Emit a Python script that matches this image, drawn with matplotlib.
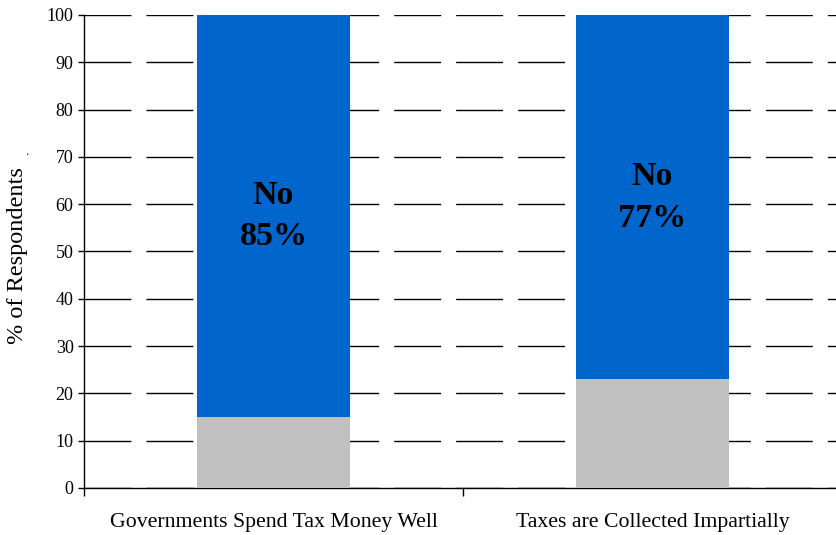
import matplotlib.pyplot as plt

# Survey results: share of respondents answering "No" vs. the rest
categories = ['Governments Spend Tax Money Well', 'Taxes are Collected Impartially']
other_pct = [15, 23]
no_pct = [85, 77]
no_labels = ['No\n85%', 'No\n77%']

plt.rcParams['font.family'] = ['Liberation Serif', 'DejaVu Serif']

fig = plt.figure(figsize=(8.36, 5.35), dpi=100)
ax = fig.add_axes([84 / 836, 1 - 488 / 535, 758 / 836, 473 / 535])

x = range(len(categories))
ax.bar(x, other_pct, width=0.404, color='#C0C0C0', zorder=3)
ax.bar(x, no_pct, bottom=other_pct, width=0.404, color='#0066CC', zorder=3)

# value labels sit in the middle of the blue part
for i, (b, v, lab) in enumerate(zip(other_pct, no_pct, no_labels)):
    ax.text(i, b + v / 2, lab, ha='center', va='center', fontsize=24.5,
            fontweight='bold', linespacing=1.45, zorder=4)

ax.set_xlim(-0.5, len(categories) - 0.5)
ax.set_ylim(0, 100)
ax.set_yticks(range(0, 101, 10))
ax.tick_params(axis='y', labelsize=13, length=4.5, width=1, direction='out', pad=3)
ax.set_xticks([])
ax.set_xticks([-0.5, 0.5, 1.5], minor=True)
ax.tick_params(axis='x', which='minor', length=6, width=1)
for i, c in enumerate(categories):
    ax.text(i, -5.2, c, ha='center', va='top', fontsize=15.7)

ax.yaxis.grid(True, color='black', linewidth=1, linestyle=(0, (33.8, 10.8)), zorder=1)
ax.spines['top'].set_visible(False)
ax.spines['right'].set_visible(False)
ax.spines['left'].set_linewidth(1)
ax.spines['bottom'].set_linewidth(1)

fig.text(18 / 836, 1 - 256 / 535, '% of Respondents', rotation=90,
         ha='center', va='center', fontsize=17.5)
fig.text(27 / 836, 1 - 152 / 535, '.', ha='center', va='center', fontsize=9)

fig.savefig('out.png', dpi=100)
